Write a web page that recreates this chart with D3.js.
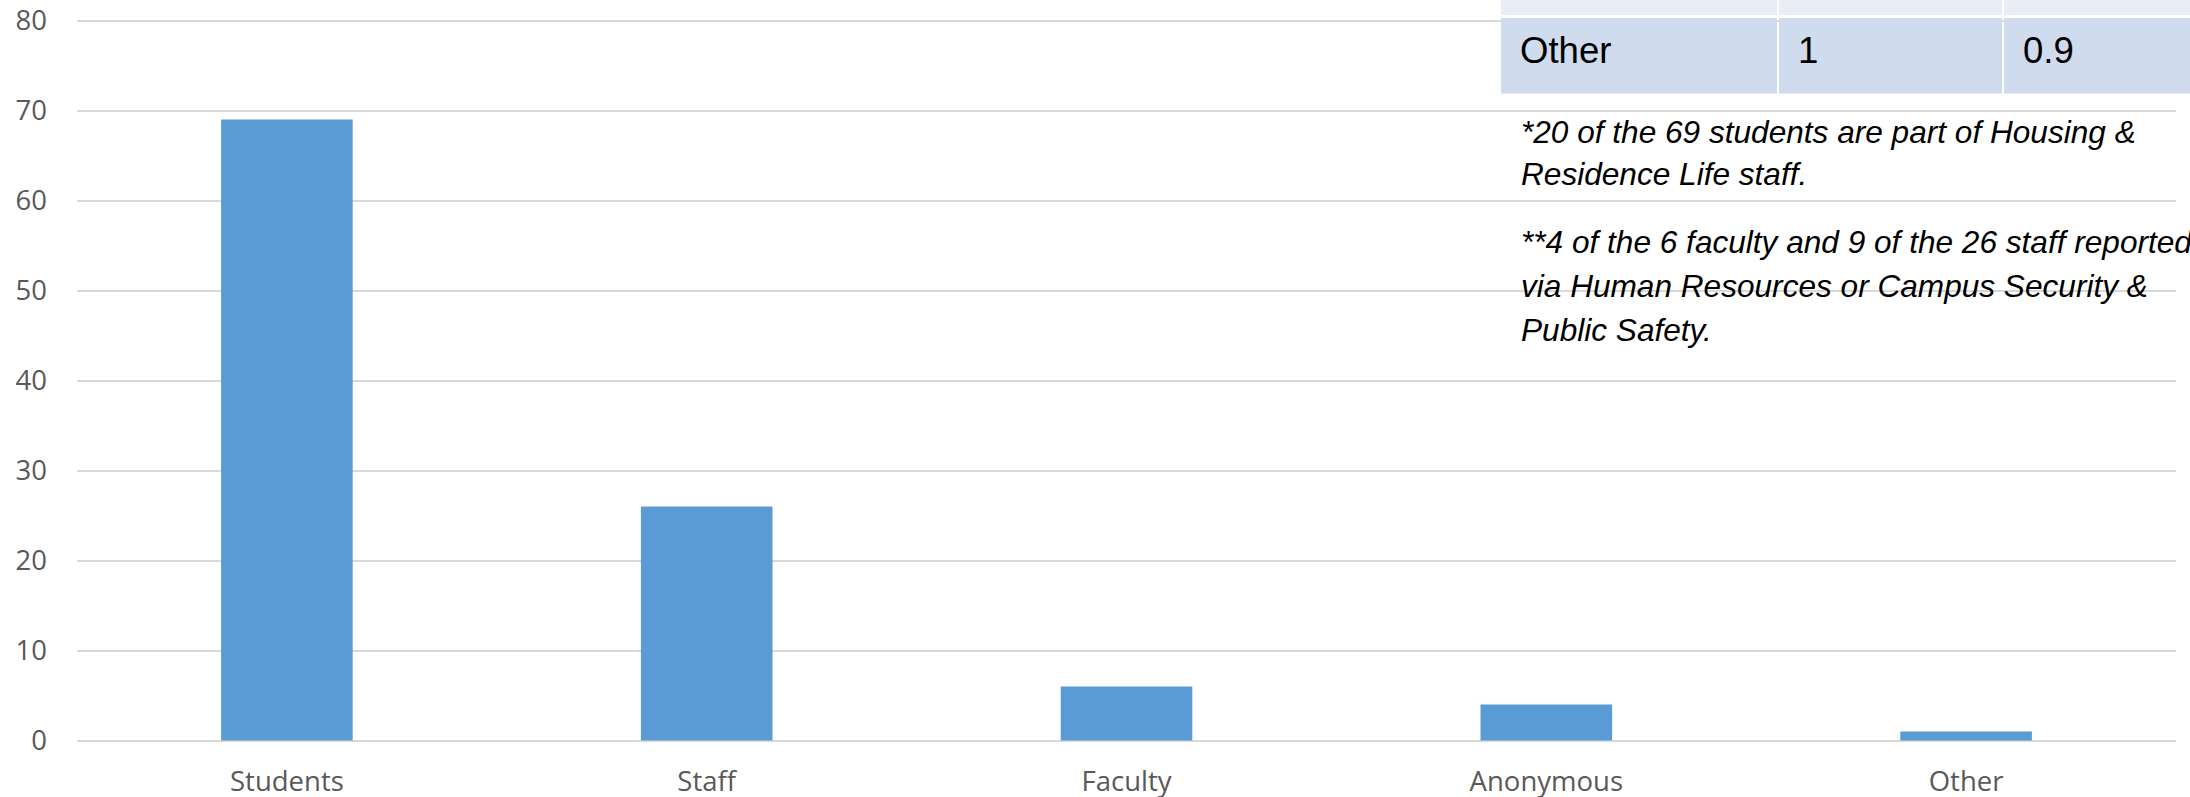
<!DOCTYPE html>
<html>
<head>
<meta charset="utf-8">
<script src="https://cdn.jsdelivr.net/npm/d3@7"></script>
<style>
  html, body { margin: 0; padding: 0; background: #fff; }
  svg { display: block; }
</style>
</head>
<body>
<svg id="chart" width="2190" height="797"></svg>
<script>
// Reporters by category
const categories = ["Students", "Staff", "Faculty", "Anonymous", "Other"];
const counts = [69, 26, 6, 4, 1];
const yTicks = [0, 10, 20, 30, 40, 50, 60, 70, 80];

// Summary table row visible above the notes
const tableRow = ["Other", "1", "0.9"];

// Footnotes
const notes = [
  "*20 of the 69 students are part of Housing &",
  "Residence Life staff.",
  "**4 of the 6 faculty and 9 of the 26 staff reported",
  "via Human Resources or Campus Security &",
  "Public Safety."
];

const W = 2190, H = 797;
const plot = { left: 77, right: 2176, top: 20.5, bottom: 740.5 };

const svg = d3.select("#chart");

const x = d3.scaleBand()
  .domain(categories)
  .range([plot.left, plot.right])
  .paddingInner(0.6865)
  .paddingOuter(0.34325);

const y = d3.scaleLinear()
  .domain([0, 80])
  .range([plot.bottom, plot.top]);

// Horizontal gridlines and value labels
const yAxis = d3.axisLeft(y)
  .tickValues(yTicks)
  .tickSize(-(plot.right - plot.left))
  .tickPadding(30)
  .tickFormat(d3.format("d"));

const gy = svg.append("g")
  .attr("transform", `translate(${plot.left},0)`)
  .call(yAxis);
gy.select(".domain").remove();
gy.selectAll(".tick line")
  .attr("stroke", "#d9d9d9")
  .attr("stroke-width", 1.8);
gy.selectAll(".tick text")
  .attr("fill", "#595959")
  .style("font-family", "'Open Sans', sans-serif")
  .style("font-size", "27.5px");

// Bars
svg.append("g")
  .selectAll("rect")
  .data(categories.map((c, i) => ({ c, v: counts[i] })))
  .join("rect")
  .attr("x", d => x(d.c))
  .attr("y", d => y(d.v))
  .attr("width", x.bandwidth())
  .attr("height", d => y(0) - y(d.v))
  .attr("fill", "#5b9bd5");

// Category labels
const xAxis = d3.axisBottom(x).tickSize(0).tickPadding(0);
const gx = svg.append("g")
  .attr("transform", `translate(0,${plot.bottom})`)
  .call(xAxis);
gx.select(".domain").remove();
gx.selectAll(".tick text")
  .attr("dy", null)
  .attr("y", 50.5)
  .attr("fill", "#595959")
  .style("font-family", "'Open Sans', sans-serif")
  .style("font-size", "27.5px");

// Table fragment in the top-right corner
const colLefts = [1501, 1779, 2004];
const colRights = [1777, 2002, W + 2];
const table = svg.append("g");
colLefts.forEach((l, i) => {
  table.append("rect")
    .attr("x", l).attr("y", -2)
    .attr("width", colRights[i] - l).attr("height", 17)
    .attr("fill", "#e9edf6");
  table.append("rect")
    .attr("x", l).attr("y", 18)
    .attr("width", colRights[i] - l).attr("height", 75.5)
    .attr("fill", "#d0dcee");
});
table.selectAll("text")
  .data(tableRow)
  .join("text")
  .attr("x", (d, i) => colLefts[i] + [19, 19, 19][i])
  .attr("y", 63.3)
  .attr("fill", "#000")
  .style("font-family", "'Liberation Sans', Arial, sans-serif")
  .style("font-size", "36.6px")
  .text(d => d);

// Footnotes
const noteY = [143.3, 185.3, 252.7, 296.7, 340.5];
svg.append("g")
  .selectAll("text")
  .data(notes)
  .join("text")
  .attr("x", 1521)
  .attr("y", (d, i) => noteY[i])
  .attr("fill", "#000")
  .style("font-family", "'Liberation Sans', Arial, sans-serif")
  .style("font-style", "italic")
  .style("font-size", "31.6px")
  .text(d => d);
</script>
</body>
</html>
